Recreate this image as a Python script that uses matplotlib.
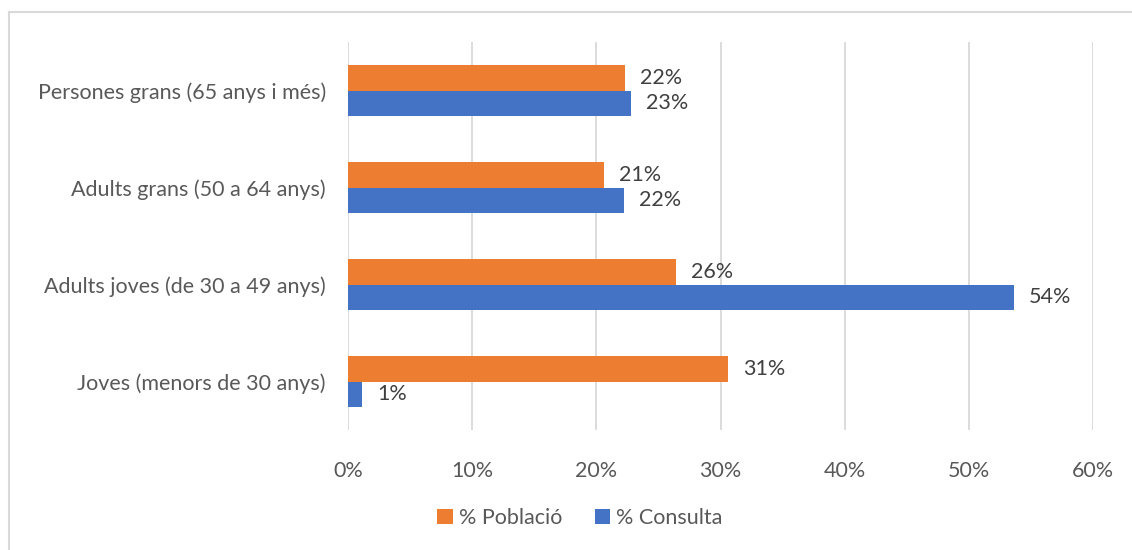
import matplotlib.pyplot as plt
from matplotlib.lines import Line2D
from matplotlib.ticker import FuncFormatter

plt.rcParams['font.family'] = ['Lato', 'DejaVu Sans']

categories = ['Joves (menors de 30 anys)', 'Adults joves (de 30 a 49 anys)',
              'Adults grans (50 a 64 anys)', 'Persones grans (65 anys i més)']
poblacio = [30.6, 26.4, 20.6, 22.3]
consulta = [1.1, 53.6, 22.2, 22.8]

orange = '#ED7D31'
blue = '#4472C4'
gray = '#595959'
grid = '#D9D9D9'

fig = plt.figure(figsize=(11.32, 5.5), dpi=100)
ax = fig.add_axes([348/1132, 1 - 430/550, (1093 - 348)/1132, (430 - 42)/550])

h = 0.26
y = list(range(len(categories)))
b1 = ax.barh([i + h/2 for i in y], poblacio, height=h, color=orange, label='% Població', zorder=3)
b2 = ax.barh([i - h/2 for i in y], consulta, height=h, color=blue, label='% Consulta', zorder=3)

for bars, vals in ((b1, poblacio), (b2, consulta)):
    for bar, v in zip(bars, vals):
        ax.annotate(f'{round(v):.0f}%', (v, bar.get_y() + bar.get_height()/2),
                    xytext=(11, 0), textcoords='offset points', va='center',
                    ha='left', fontsize=15.5, color='#404040')

ax.set_xlim(0, 60)
ax.set_ylim(-0.5, 3.5)
ax.set_xticks(range(0, 61, 10))
ax.xaxis.set_major_formatter(FuncFormatter(lambda v, p: f'{v:.0f}%'))
ax.set_yticks(y)
ax.set_yticklabels(categories)
ax.tick_params(length=0, labelsize=15.5, labelcolor=gray)
ax.tick_params(axis='x', pad=22)
ax.tick_params(axis='y', pad=16)
ax.grid(axis='x', color=grid, linewidth=1.3, zorder=0)
for s in ax.spines.values():
    s.set_visible(False)

ax.legend(handles=[b1, b2], loc='center', bbox_to_anchor=(580/1132, 1 - 518/550),
          bbox_transform=fig.transFigure, ncol=2, frameon=False, fontsize=15.5,
          labelcolor=gray, handlelength=0.7, handleheight=0.7, handletextpad=0.3,
          columnspacing=1.5)

# chart frame
fig.add_artist(Line2D([8.5/1132, 8.5/1132], [0, 1 - 12/550], color=grid, linewidth=1.5,
                      transform=fig.transFigure))
fig.add_artist(Line2D([8.5/1132, 1], [1 - 12/550, 1 - 12/550], color=grid, linewidth=1.5,
                      transform=fig.transFigure))

fig.savefig('out.png', dpi=100)
